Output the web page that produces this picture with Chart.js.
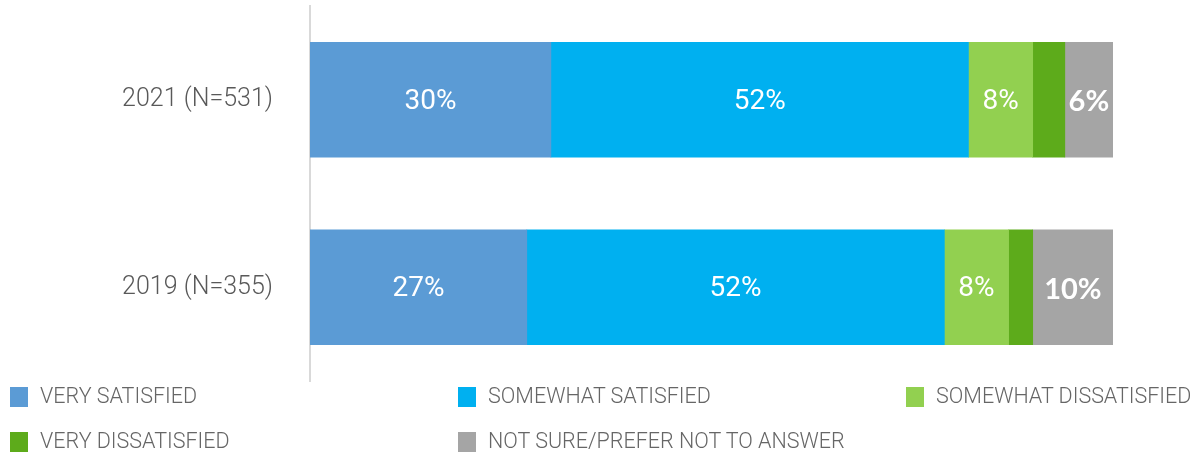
<!DOCTYPE html>
<html>
<head>
<meta charset="utf-8">
<script src="https://cdn.jsdelivr.net/npm/chart.js@4"></script>
<style>
  body { margin: 0; background: #fff; }
  #wrap { position: relative; width: 1198px; height: 452px; }
  #satChart { position: absolute; left: 0; top: 0; }
  .key { position: absolute; font-family: Roboto, sans-serif; font-weight: 300; font-size: 21.5px; color: #666666; white-space: nowrap; }
  .key span { position: absolute; left: 0; top: 4px; width: 18px; height: 20px; }
  .key b { font-weight: 300; position: absolute; left: 30px; top: 0; }
</style>
</head>
<body>
<div id="wrap">
  <canvas id="satChart" width="1198" height="452"></canvas>
  <div id="legend"></div>
</div>
<script>
// survey rows, top to bottom
let years = ['2021 (N=531)', '2019 (N=355)'];

let answers = ['VERY SATISFIED', 'SOMEWHAT SATISFIED', 'SOMEWHAT DISSATISFIED', 'VERY DISSATISFIED', 'NOT SURE/PREFER NOT TO ANSWER'];
let colors = ['#5b9bd5', '#00b0f0', '#92d050', '#5dab1b', '#a5a5a5'];

let verySatisfied = [30, 27];
let somewhatSatisfied = [52, 52];
let somewhatDissatisfied = [8, 8];
let veryDissatisfied = [4, 3];
let notSure = [6, 10];

let series = [verySatisfied, somewhatSatisfied, somewhatDissatisfied, veryDissatisfied, notSure];
// which segments carry a % label, and which are bold
let showLabel = [true, true, true, false, true];
let boldLabel = [false, false, false, false, true];

// LEGEND (two rows, three columns)
let legend = document.querySelector('#legend');
let legendPos = [[10, 383], [458, 383], [906, 383], [10, 428], [458, 428]];
answers.forEach((a, i) => {
    let d = document.createElement('div');
    d.className = 'key';
    d.style.left = legendPos[i][0] + 'px';
    d.style.top = legendPos[i][1] + 'px';
    d.innerHTML = '<span style="background:' + colors[i] + '"></span><b>' + a + '</b>';
    legend.append(d);
});

// % labels inside the segments
let segLabels = {
    id: 'segLabels',
    afterDatasetsDraw(chart) {
        let ctx = chart.ctx;
        ctx.save();
        ctx.fillStyle = '#ffffff';
        ctx.textAlign = 'center';
        ctx.textBaseline = 'middle';
        chart.data.datasets.forEach((ds, i) => {
            if (!showLabel[i]) return;
            ctx.font = boldLabel[i] ? 'bold 29px Lato, sans-serif' : '28px Roboto, sans-serif';
            chart.getDatasetMeta(i).data.forEach((bar, j) => {
                let x = (bar.x + bar.base) / 2;
                ctx.fillText(ds.data[j] + '%', x, bar.y + 2);
            });
        });
        ctx.restore();
    }
};

let satChart = new Chart(document.querySelector('#satChart').getContext('2d'), {
    type: 'bar',
    data: {
        labels: years,
        datasets: answers.map((a, i) => ({
            label: a,
            data: series[i],
            backgroundColor: colors[i],
            borderWidth: 0,
            barThickness: 115
        }))
    },
    options: {
        indexAxis: 'y',
        responsive: false,
        animation: false,
        layout: { padding: { top: 6, right: 85, bottom: 71, left: 0 } },
        plugins: {
            legend: { display: false },
            tooltip: { enabled: false }
        },
        scales: {
            x: {
                stacked: true,
                display: false,
                min: 0,
                max: 100
            },
            y: {
                stacked: true,
                grid: { display: false, drawTicks: false },
                border: { display: true, color: '#d9d9d9', width: 2 },
                ticks: {
                    color: '#595959',
                    padding: 37,
                    font: { family: 'Roboto, sans-serif', weight: 300, size: 25 }
                },
                afterFit(scale) {
                    // fixed gutter for the row labels, no extra top/bottom padding
                    scale.width = 310;
                    scale.paddingTop = 0;
                    scale.paddingBottom = 0;
                }
            }
        }
    },
    plugins: [segLabels]
});
</script>
</body>
</html>
